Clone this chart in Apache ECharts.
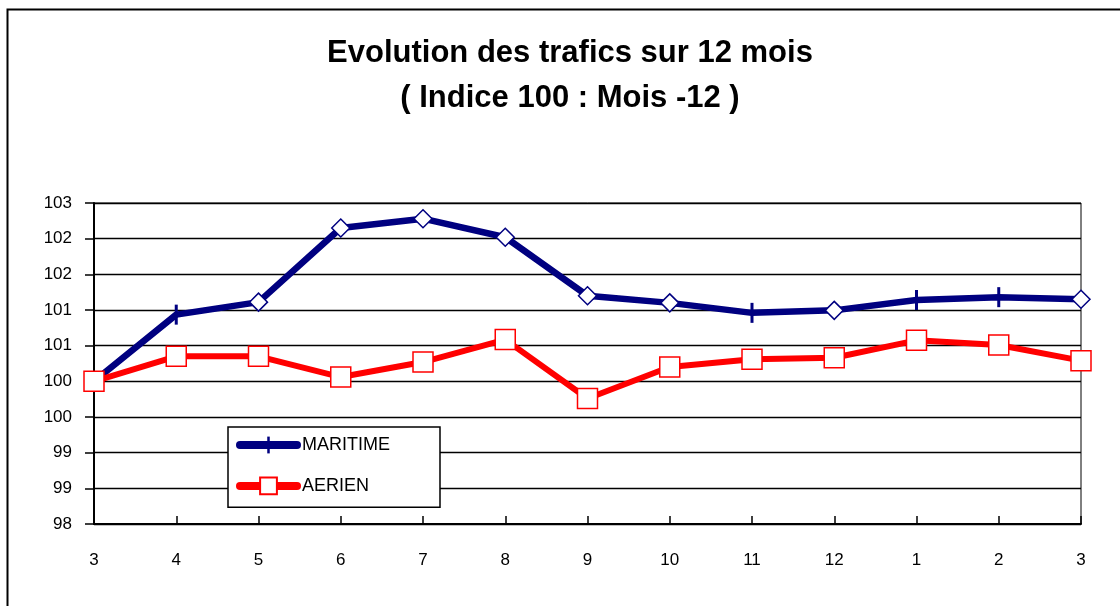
<!DOCTYPE html>
<html>
<head>
<meta charset="utf-8">
<script src="https://cdn.jsdelivr.net/npm/echarts@6/dist/echarts.min.js"></script>
<style>
html,body{margin:0;padding:0;background:#fff;}
#chart{width:1120px;height:606px;}
</style>
</head>
<body>
<div id="chart"></div>
<script>
const titleLines = ['Evolution des trafics sur 12 mois', '( Indice 100 : Mois -12 )'];
const months = ['3','4','5','6','7','8','9','10','11','12','1','2','3'];
const maritime = [100, 100.935, 101.11, 102.15, 102.28, 102.02, 101.20, 101.10, 100.96, 100.995, 101.14, 101.18, 101.15];
const aerien = [100, 100.35, 100.35, 100.06, 100.27, 100.585, 99.76, 100.20, 100.31, 100.33, 100.575, 100.51, 100.29];
const maritimeMarkers = ['tick','tick','diamond','diamond','diamond','diamond','diamond','diamond','tick','diamond','tick','tick','diamond'];
const seriesNames = ['MARITIME', 'AERIEN'];

const NAVY = '#000080';
const RED = '#ff0000';
const FONT = '"Liberation Sans", Arial, sans-serif';
const TICK_PATH = 'path://M0,0M8.5,0L11.5,0L11.5,20L8.5,20ZM20,20';

const maritimeData = maritime.map((v, i) => maritimeMarkers[i] === 'diamond'
  ? { value: v, symbol: 'diamond', symbolSize: 18, itemStyle: { color: '#fff', borderColor: NAVY, borderWidth: 1.5 } }
  : { value: v });

const chart = echarts.init(document.getElementById('chart'), null, { renderer: 'canvas' });
chart.setOption({
  animation: false,
  backgroundColor: '#fff',
  textStyle: { fontFamily: FONT },
  title: {
    text: titleLines.join('\n'),
    left: 570,
    top: 31,
    padding: 0,
    textAlign: 'center',
    textStyle: { fontFamily: FONT, fontSize: 31, fontWeight: 'bold', color: '#000', lineHeight: 45 }
  },
  graphic: [{
    type: 'rect',
    shape: { x: 7.5, y: 9.5, width: 1300, height: 800 },
    style: { fill: 'none', stroke: '#000', lineWidth: 2 },
    silent: true,
    z: 0
  }],
  grid: {
    left: 94, right: 39, top: 203, bottom: 82,
    show: true, borderColor: '#000', borderWidth: 1, backgroundColor: 'transparent'
  },
  legend: {
    orient: 'vertical',
    left: 228, top: 427,
    padding: [9, 50, 12, 8],
    itemWidth: 57, itemHeight: 21, itemGap: 22.5,
    backgroundColor: '#fff', borderColor: '#000', borderWidth: 1.5,
    data: seriesNames,
    lineStyle: { width: 8, cap: 'round' },
    textStyle: { fontFamily: FONT, fontSize: 18, color: '#000' },
    z: 10
  },
  xAxis: {
    type: 'category',
    data: months,
    boundaryGap: false,
    axisLine: { lineStyle: { color: '#000', width: 2 } },
    axisTick: { inside: true, length: 8, lineStyle: { color: '#000', width: 1.5 }, alignWithLabel: true },
    axisLabel: { color: '#000', fontSize: 17, fontFamily: FONT, margin: 28 },
    splitLine: { show: false }
  },
  yAxis: {
    type: 'value',
    min: 98, max: 102.5, interval: 0.5,
    axisLine: { show: true, lineStyle: { color: '#000', width: 2 } },
    axisTick: { show: true, inside: false, length: 9, lineStyle: { color: '#000', width: 1.5 } },
    axisLabel: { color: '#000', fontSize: 17, fontFamily: FONT, margin: 22, formatter: v => String(Math.round(v)) },
    splitLine: { show: true, lineStyle: { color: '#000', width: 1.3 } }
  },
  series: [
    {
      name: seriesNames[0],
      type: 'line',
      data: maritimeData,
      symbol: TICK_PATH,
      symbolSize: 20,
      showAllSymbol: true,
      lineStyle: { color: NAVY, width: 6.5, cap: 'round', join: 'round' },
      itemStyle: { color: NAVY, borderWidth: 0 },
      z: 3
    },
    {
      name: seriesNames[1],
      type: 'line',
      data: aerien,
      symbol: 'rect',
      symbolSize: 20,
      showAllSymbol: true,
      lineStyle: { color: RED, width: 6, cap: 'round', join: 'round' },
      itemStyle: { color: '#fff', borderColor: RED, borderWidth: 1.5 },
      z: 4
    }
  ]
});
</script>
</body>
</html>
